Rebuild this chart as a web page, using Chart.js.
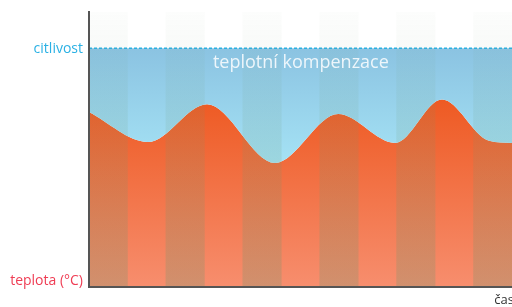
<!DOCTYPE html>
<html>
<head>
<meta charset="utf-8">
<script src="https://cdn.jsdelivr.net/npm/chart.js@4"></script>
<style>
  html, body { margin: 0; padding: 0; background: #fff; }
  #wrap { width: 512px; height: 307px; }
</style>
</head>
<body>
<div id="wrap"><canvas id="chart"></canvas></div>
<script>
// -------------------------------------------------------------
// Data (time in stripe units, y in 0..100)
// -------------------------------------------------------------
const timeSteps = [0, 1.53, 3.07, 4.84, 6.48, 7.96, 9.18, 10.4, 11]
const temperature = [63.6, 52.7, 66.5, 45.1, 62.9, 52.4, 68.2, 53.2, 52.4]
const sensitivity = 86.8
const stripeCenters = [0.5, 1.5, 2.5, 3.5, 4.5, 5.5, 6.5, 7.5, 8.5, 9.5, 10.5]
const stripeHeights = [100, 100, 100, 100, 100, 100, 100, 100, 100, 100, 100]

const labelText = {
  sensitivity: 'citlivost',
  temperature: 'teplota (°C)',
  compensation: 'teplotní kompenzace',
  time: 'čas'
}

const FONT = '"Open Sans", "Noto Sans", sans-serif'

// gradients need the chart area, so build them lazily
function vGradient(chart, stops) {
  const { ctx, chartArea } = chart
  if (!chartArea) return stops[0][1]
  const g = ctx.createLinearGradient(0, chartArea.top, 0, chartArea.bottom)
  stops.forEach(([p, c]) => g.addColorStop(p, c))
  return g
}

const textLabels = {
  id: 'textLabels',
  afterDraw(chart) {
    const { ctx, chartArea, scales } = chart
    const y = scales.y
    const x = scales.x
    ctx.save()
    ctx.textBaseline = 'middle'

    ctx.font = `14px ${FONT}`
    ctx.fillStyle = '#2bb1e4'
    ctx.textAlign = 'right'
    ctx.fillText(labelText.sensitivity, chartArea.left - 6, y.getPixelForValue(sensitivity) + 1)

    ctx.font = `14px ${FONT}`
    ctx.fillStyle = '#ef3d54'
    ctx.fillText(labelText.temperature, chartArea.left - 6, y.getPixelForValue(2))

    ctx.font = `500 18px ${FONT}`
    ctx.fillStyle = 'rgba(245,250,253,0.92)'
    ctx.textAlign = 'center'
    ctx.fillText(labelText.compensation, x.getPixelForValue(5.51), y.getPixelForValue(81.6))

    ctx.font = `13px ${FONT}`
    ctx.fillStyle = '#333'
    ctx.textAlign = 'right'
    ctx.fillText(labelText.time, chartArea.right + 2, chartArea.bottom + 13)
    ctx.restore()
  }
}

new Chart(document.getElementById('chart'), {
  data: {
    datasets: [
      {
        type: 'line',
        label: 'citlivost',
        data: timeSteps.map(t => ({ x: t, y: sensitivity })),
        borderColor: '#2ab0e2',
        borderWidth: 1.5,
        borderDash: [3, 2],
        pointRadius: 0,
        fill: '+1',
        backgroundColor: c => vGradient(c.chart, [[0.12, '#8ac2e1'], [0.6, '#a8e6f7']]),
        order: 1
      },
      {
        type: 'line',
        label: 'teplota',
        data: timeSteps.map((t, i) => ({ x: t, y: temperature[i] })),
        borderWidth: 0,
        borderColor: 'rgba(0,0,0,0)',
        pointRadius: 0,
        cubicInterpolationMode: 'monotone',
        fill: 'origin',
        backgroundColor: c => vGradient(c.chart, [[0, '#ec541f'], [0.32, '#ee5a23'], [1, '#f78e6e']]),
        order: 2
      },
      {
        type: 'bar',
        label: 'pruhy',
        data: stripeCenters.map((c, i) => ({ x: c, y: stripeHeights[i] })),
        barPercentage: 1,
        categoryPercentage: 1,
        borderWidth: 0,
        backgroundColor: c => c.dataIndex % 2 ? 'rgba(0,0,0,0)'
          : vGradient(c.chart, [[0, 'rgba(110,150,110,0.02)'], [0.15, 'rgba(110,150,110,0.05)'], [1, 'rgba(110,150,110,0.28)']]),
        order: 0
      }
    ]
  },
  options: {
    responsive: true,
    maintainAspectRatio: false,
    animation: false,
    layout: { padding: { left: 81, top: 12, right: 0, bottom: 12 } },
    plugins: { legend: { display: false }, tooltip: { enabled: false } },
    scales: {
      x: {
        type: 'linear', min: 0, max: 11, offset: false,
        ticks: { display: false }, grid: { display: false, offset: false },
        border: { display: true, color: '#555', width: 2, z: 1 }
      },
      y: {
        min: 0, max: 100,
        ticks: { display: false }, grid: { display: false },
        border: { display: true, color: '#555', width: 2, z: 1 }
      }
    }
  },
  plugins: [textLabels]
})
</script>
</body>
</html>
